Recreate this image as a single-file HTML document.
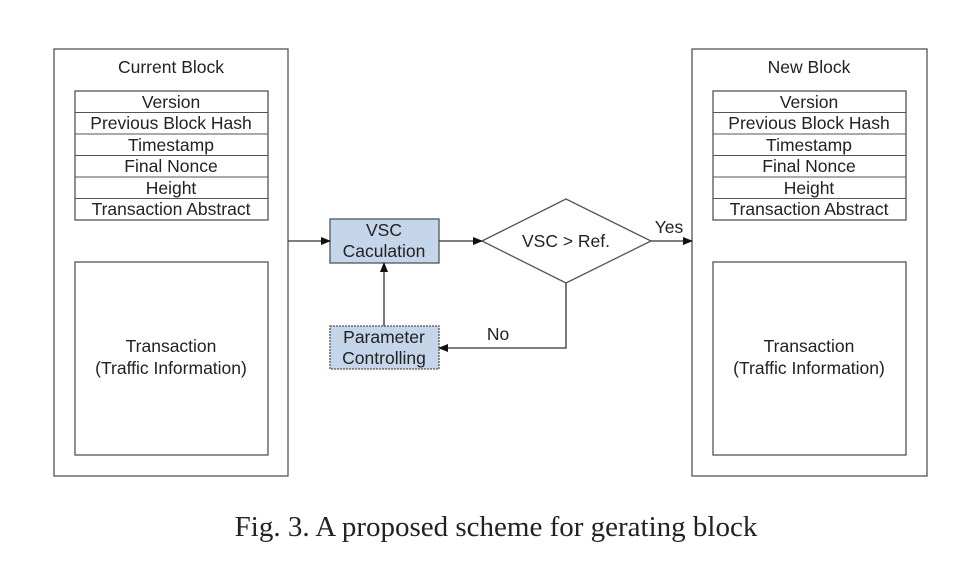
<!DOCTYPE html>
<html><head><style>
body{margin:0;background:#fff;}
svg text{font-family:"Liberation Sans",sans-serif;fill:#222;}
</style></head><body>
<svg width="973" height="580" xmlns="http://www.w3.org/2000/svg">
<defs><marker id="a" markerWidth="10" markerHeight="8" refX="9" refY="4" orient="auto" markerUnits="userSpaceOnUse"><path d="M0,0L10,4L0,8z" fill="#111"/></marker></defs>
<g fill="none" stroke="#555" stroke-width="1.3">
<rect x="54" y="49" width="234" height="427"/>
<rect x="692" y="49" width="235" height="427"/>
<rect x="75" y="91" width="193" height="129"/>
<rect x="713" y="91" width="193" height="129"/>
<rect x="75" y="262" width="193" height="193"/>
<rect x="713" y="262" width="193" height="193"/>
</g>
<g stroke="#555" stroke-width="1">
<line x1="75" y1="112.5" x2="268" y2="112.5"/><line x1="75" y1="134" x2="268" y2="134"/><line x1="75" y1="155.5" x2="268" y2="155.5"/><line x1="75" y1="177" x2="268" y2="177"/><line x1="75" y1="198.5" x2="268" y2="198.5"/>
<line x1="713" y1="112.5" x2="906" y2="112.5"/><line x1="713" y1="134" x2="906" y2="134"/><line x1="713" y1="155.5" x2="906" y2="155.5"/><line x1="713" y1="177" x2="906" y2="177"/><line x1="713" y1="198.5" x2="906" y2="198.5"/>
</g>
<g font-size="17.5" text-anchor="middle">
<text x="171" y="73">Current Block</text><text x="809" y="73">New Block</text>
<text x="171" y="108">Version</text><text x="171" y="129">Previous Block Hash</text><text x="171" y="151">Timestamp</text><text x="171" y="172">Final Nonce</text><text x="171" y="194">Height</text><text x="171" y="215">Transaction Abstract</text>
<text x="809" y="108">Version</text><text x="809" y="129">Previous Block Hash</text><text x="809" y="151">Timestamp</text><text x="809" y="172">Final Nonce</text><text x="809" y="194">Height</text><text x="809" y="215">Transaction Abstract</text>
<text x="171" y="352">Transaction</text><text x="171" y="374">(Traffic Information)</text>
<text x="809" y="352">Transaction</text><text x="809" y="374">(Traffic Information)</text>
</g>
<rect x="330" y="219" width="109" height="44" fill="#c5d5ea" stroke="#555" stroke-width="1.3"/>
<rect x="330" y="326" width="109" height="43" fill="#c5d5ea" stroke="#555" stroke-width="1.3" stroke-dasharray="2,1"/>
<polygon points="482,241 566,199 651,241 566,283" fill="#fff" stroke="#555" stroke-width="1.3"/>
<g font-size="17.5" text-anchor="middle">
<text x="384" y="236">VSC</text><text x="384" y="257">Caculation</text>
<text x="384" y="343">Parameter</text><text x="384" y="364">Controlling</text>
<text x="566" y="247">VSC &gt; Ref.</text>
<text x="669" y="233">Yes</text><text x="498" y="340">No</text>
</g>
<g stroke="#333" stroke-width="1.3" fill="none">
<line x1="288" y1="241" x2="330" y2="241" marker-end="url(#a)"/>
<line x1="439" y1="241" x2="482" y2="241" marker-end="url(#a)"/>
<line x1="651" y1="241" x2="692" y2="241" marker-end="url(#a)"/>
<polyline points="566,283 566,348 439,348" marker-end="url(#a)"/>
<line x1="384" y1="326" x2="384" y2="263" marker-end="url(#a)"/>
</g>
<text x="496" y="536" font-size="29" text-anchor="middle" style="font-family:'Liberation Serif',serif">Fig. 3. A proposed scheme for gerating block</text>
</svg>
</body></html>
